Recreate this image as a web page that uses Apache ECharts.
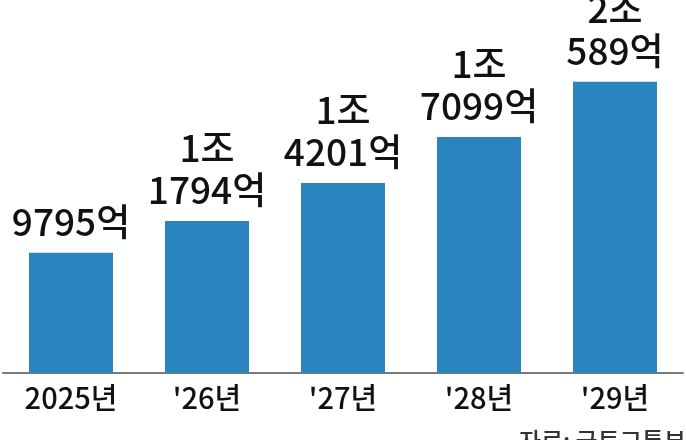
<!DOCTYPE html>
<html>
<head>
<meta charset="utf-8">
<script src="https://cdn.jsdelivr.net/npm/echarts@6/dist/echarts.min.js"></script>
<style>
html,body{margin:0;padding:0;background:#fff;}
#c{width:686px;height:440px;}
</style>
</head>
<body>
<div id="c"></div>
<script>
// Data (unit: 억원)
var categories = ['2025년', "'26년", "'27년", "'28년", "'29년"];
var values = [9795, 11794, 14201, 17099, 20589];
var sourceText = '자료: 국토교통부';

function fmt(v) {
  if (v >= 10000) {
    return Math.floor(v / 10000) + '조\n' + (v % 10000) + '억';
  }
  return v + '억';
}

var FONT = '"Noto Sans CJK KR", sans-serif';
var chart = echarts.init(document.getElementById('c'), null, {renderer: 'canvas'});
chart.setOption({
  animation: false,
  backgroundColor: '#ffffff',
  grid: {left: 3, right: 3, top: 0, bottom: 67, containLabel: false},
  xAxis: {
    type: 'category',
    data: categories,
    axisLine: {show: true, lineStyle: {color: '#7a7a7a', width: 2}},
    axisTick: {show: false},
    axisLabel: {color: '#111', fontSize: 29, fontWeight: 500, fontFamily: FONT, margin: 10}
  },
  yAxis: {
    type: 'value',
    min: 2200,
    max: 25745,
    show: false,
    splitLine: {show: false}
  },
  series: [{
    type: 'bar',
    data: values,
    barWidth: 84,
    itemStyle: {color: '#2a84be'},
    label: {
      show: true,
      position: 'top',
      distance: 10,
      color: '#111',
      fontSize: 37,
      fontWeight: 500,
      lineHeight: 42,
      fontFamily: FONT,
      formatter: function (p) { return fmt(p.value); }
    }
  }],
  graphic: [{
    type: 'text',
    right: 0,
    top: 429,
    style: {text: sourceText, fontSize: 24, fontWeight: 500, fontFamily: FONT, fill: '#333'}
  }]
});
</script>
</body>
</html>
